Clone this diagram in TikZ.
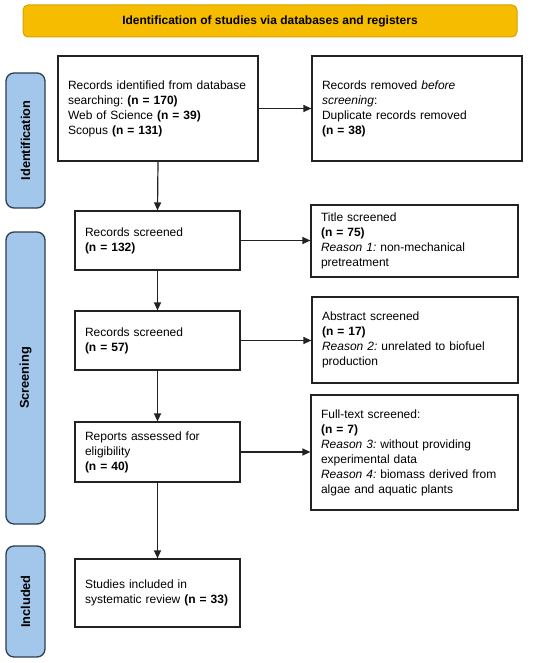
\documentclass[tikz,border=0pt]{standalone}
\usepackage{fontspec}
\setmainfont{Liberation Sans}
\usetikzlibrary{arrows.meta}
\frenchspacing
\definecolor{bannerfill}{HTML}{F5BC00}
\definecolor{bannerdraw}{HTML}{D9A200}
\definecolor{sidefill}{HTML}{A3C7EA}
\definecolor{sidedraw}{HTML}{2E3E52}
\definecolor{boxdraw}{HTML}{222222}
\tikzset{
  box/.style={draw=boxdraw, line width=1.2pt, rectangle, align=left, inner xsep=10pt, inner ysep=0pt,
    font=\fontsize{12}{15}\selectfont},
  sidebar/.style={draw=sidedraw, fill=sidefill, line width=1.3pt, rounded corners=8pt},
  sidelabel/.style={rotate=90, font=\fontsize{12.8}{15}\selectfont\bfseries},
  arr/.style={draw=boxdraw, line width=1.2pt, -{Triangle[length=8pt,width=7pt]}},
}
\begin{document}
\begin{tikzpicture}[x=1pt,y=-1pt]
\useasboundingbox (0,0) rectangle (550,663);
% banner
\node[draw=bannerdraw, fill=bannerfill, line width=1pt, rounded corners=5pt, minimum width=494pt, minimum height=32pt,
  font=\fontsize{12}{14}\selectfont\bfseries] (banner) at (270,21) {Identification of studies via databases and registers};
% side bars
\node[sidebar, minimum width=39pt, minimum height=135pt] (sid) at (25.5,140.5) {};
\node[sidelabel] (sidl) at (sid.center) {Identification};
\node[sidebar, minimum width=39pt, minimum height=292pt] (scr) at (25.5,378) {};
\node[sidelabel] (scrl) at (scr.center) {Screening};
\node[sidebar, minimum width=39pt, minimum height=111pt] (inc) at (25.5,601.5) {};
\node[sidelabel] (incl) at (inc.center) {Included};
% main boxes
\node[box, text width=180pt, minimum height=105pt] (b1) at (158,108.5)
  {Records identified from database\\searching: \textbf{(n = 170)}\\Web of Science \textbf{(n = 39)}\\Scopus \textbf{(n = 131)}};
\node[box, text width=145pt, minimum height=59pt] (b2) at (157.5,240.5)
  {Records screened\\\textbf{(n = 132)}};
\node[box, text width=145pt, minimum height=59pt] (b3) at (157.5,340.5)
  {Records screened\\\textbf{(n = 57)}};
\node[box, text width=145pt, minimum height=60pt] (b4) at (157.5,452)
  {Reports assessed for\\eligibility\\\textbf{(n = 40)}};
\node[box, text width=145pt, minimum height=68pt] (b5) at (157.5,593)
  {Studies included in\\systematic review \textbf{(n = 33)}};
% right boxes
\node[box, text width=190pt, minimum height=105pt] (r1) at (417,108.5)
  {Records removed \textit{before}\\\textit{screening}:\\Duplicate records removed\\\textbf{(n = 38)}};
\node[box, text width=187pt, minimum height=72pt] (r2) at (414.5,241)
  {Title screened\\\textbf{(n = 75)}\\\textit{Reason 1:} non-mechanical\\pretreatment};
\node[box, text width=186pt, minimum height=86pt] (r3) at (415,340)
  {Abstract screened\\\textbf{(n = 17)}\\\textit{Reason 2:} unrelated to biofuel\\production};
\node[box, text width=187pt, minimum height=115pt] (r4) at (414.5,452.5)
  {Full-text screened:\\\textbf{(n = 7)}\\\textit{Reason 3:} without providing\\experimental data\\\textit{Reason 4:} biomass derived from\\algae and aquatic plants};
% connectors
\draw[arr] (b1.south) -- (b2.north);
\draw[arr] (b2.south) -- (b3.north);
\draw[arr] (b3.south) -- (b4.north);
\draw[arr] (b4.south) -- (b5.north);
\draw[arr] (b1.east) -- (b1.east -| r1.west);
\draw[arr] (b2.east) -- (b2.east -| r2.west);
\draw[arr] (b3.east) -- (b3.east -| r3.west);
\draw[arr] (b4.east) -- (b4.east -| r4.west);
\end{tikzpicture}
\end{document}
